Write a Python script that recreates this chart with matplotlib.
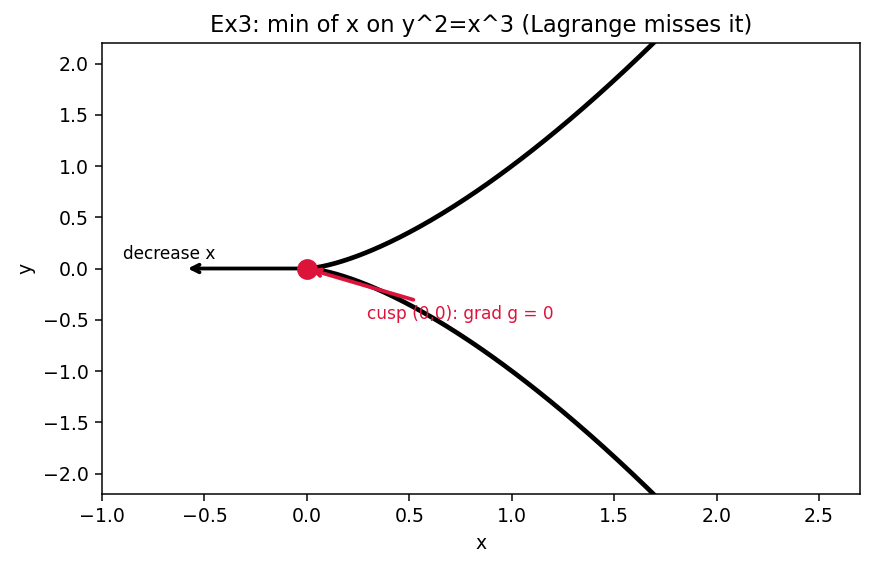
import matplotlib
matplotlib.use("Agg")
import matplotlib.pyplot as plt
import numpy as np

# cusp y^2 = x^3, parametrised as x = t^2, y = t^3
t_vals = np.linspace(-1.4, 1.4, 401)
cusp_x = t_vals ** 2
cusp_y = t_vals ** 3

point = (0.0, 0.0)
arrow_end = (-0.6, 0.0)
note_pos = (0.75, -0.44)
label_pos = (-0.9, 0.09)

fig, ax = plt.subplots(figsize=(875 / 136, 569 / 136), dpi=136)

ax.plot(cusp_x, cusp_y, color="black", lw=2.5)
ax.plot(*point, "o", color="crimson", markersize=10, zorder=5)

ax.annotate("", xy=arrow_end, xytext=point,
            arrowprops=dict(arrowstyle="->", color="black", lw=2))
ax.text(*label_pos, "decrease x", fontsize=9)

ax.annotate("cusp (0,0): grad g = 0", xy=point, xytext=note_pos,
            color="crimson", fontsize=9, ha="center", va="center",
            arrowprops=dict(arrowstyle="->", color="crimson", lw=2))

ax.set_xlim(-1.0, 2.7)
ax.set_ylim(-2.2, 2.2)
ax.set_xlabel("x")
ax.set_ylabel("y")
ax.set_title("Ex3: min of x on y^2=x^3 (Lagrange misses it)")

fig.subplots_adjust(left=0.1166, right=0.9829, top=0.9244, bottom=0.1318)
fig.savefig("out.png", dpi=136)
